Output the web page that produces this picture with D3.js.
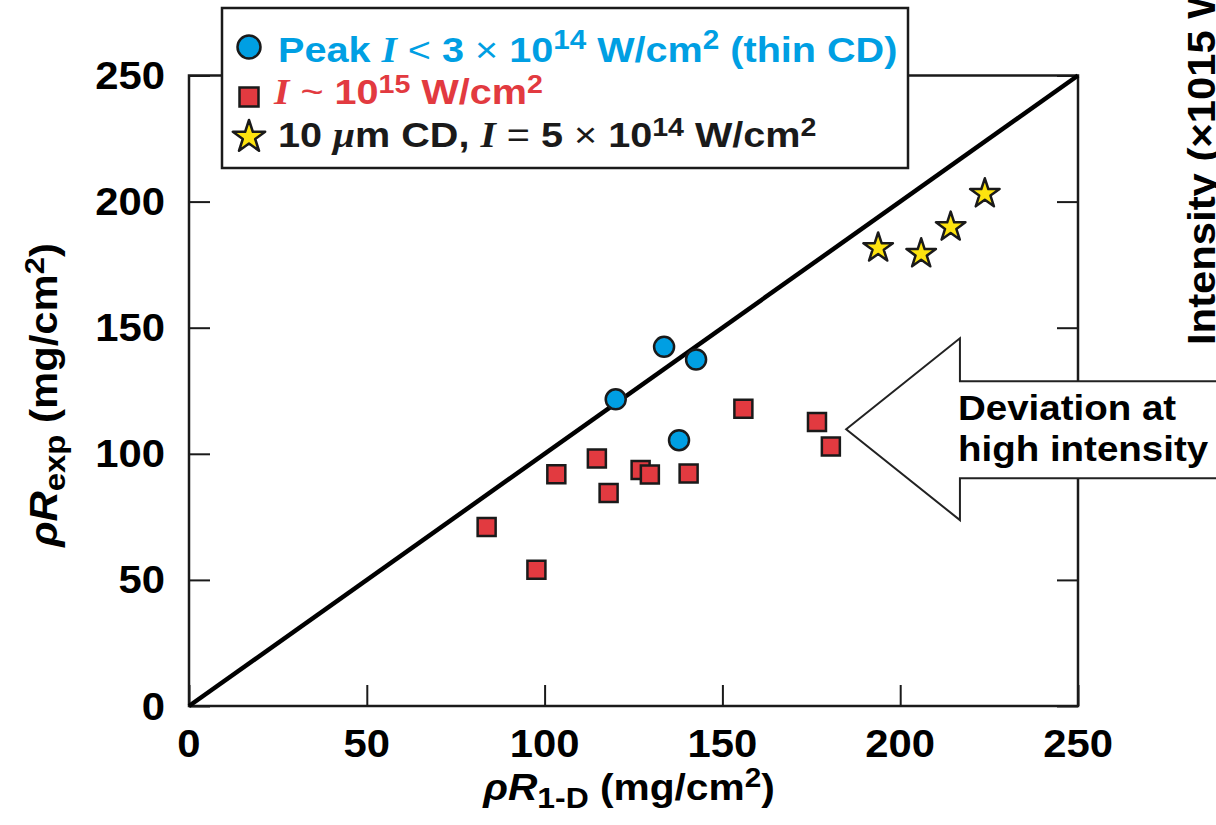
<!DOCTYPE html>
<html>
<head>
<meta charset="utf-8">
<script src="https://cdn.jsdelivr.net/npm/d3@7"></script>
<style>
  html, body { margin: 0; padding: 0; background: #fff; }
  svg { display: block; }
  text { font-family: "Liberation Sans", Arial, Helvetica, sans-serif; font-weight: bold; }
  .serif { font-family: "Liberation Serif", "Times New Roman", serif; font-style: italic; font-weight: bold; }
</style>
</head>
<body>
<svg id="chart" width="1216" height="825"></svg>
<script>
// Areal density: experiment vs 1-D simulation
const xTicks = [0, 50, 100, 150, 200, 250];
const yTicks = [0, 50, 100, 150, 200, 250];

// Peak I < 3e14 W/cm2 (thin CD)
const lowX = [133.6, 142.6, 120.0, 137.8];
const lowY = [142.4, 137.4, 121.6, 105.4];

// I ~ 1e15 W/cm2
const highX = [155.9, 176.6, 180.5, 114.7, 103.3, 127.0, 129.6, 140.5, 118.0, 83.7, 97.7];
const highY = [117.9, 112.6, 102.9, 98.1, 91.9, 93.6, 91.8, 92.2, 84.5, 71.0, 54.0];

// 10 um CD, I = 5e14 W/cm2
const cdX = [223.8, 214.2, 205.9, 193.8];
const cdY = [203.1, 189.9, 179.3, 181.6];

// y = x reference line
const diagonal = [0, 250];

const BLUE = "#009fe3", RED = "#e23a40", YELLOW = "#fde30f", INK = "#1a1a1a";
const SX = 1.1; // horizontal stretch of lettering

const svg = d3.select("#chart");
const x = d3.scaleLinear().domain([0, 250]).range([189, 1078]);
const y = d3.scaleLinear().domain([0, 250]).range([706, 75.5]);

// text helper: places a stretched text element
function label(parent, px, py, anchor, size, rot) {
  return parent.append("text")
    .attr("transform", `translate(${px},${py})` + (rot ? ` rotate(${rot})` : "") + ` scale(${SX},1)`)
    .attr("text-anchor", anchor)
    .attr("font-size", size);
}

// frame
svg.append("rect")
  .attr("x", x(0)).attr("y", y(250))
  .attr("width", x(250) - x(0)).attr("height", y(0) - y(250))
  .attr("fill", "none").attr("stroke", INK).attr("stroke-width", 2.5);

// inward ticks on bottom, left and right
const TL = 21;
svg.append("g").attr("transform", `translate(0,${y(0)})`)
  .call(d3.axisBottom(x).tickValues(xTicks).tickSizeInner(-TL).tickSizeOuter(0).tickFormat(""))
  .call(g => g.select(".domain").remove())
  .call(g => g.selectAll("line").attr("stroke", INK).attr("stroke-width", 2));
svg.append("g").attr("transform", `translate(${x(0)},0)`)
  .call(d3.axisLeft(y).tickValues(yTicks).tickSizeInner(-TL).tickSizeOuter(0).tickFormat(""))
  .call(g => g.select(".domain").remove())
  .call(g => g.selectAll("line").attr("stroke", INK).attr("stroke-width", 2));
svg.append("g").attr("transform", `translate(${x(250)},0)`)
  .call(d3.axisRight(y).tickValues(yTicks).tickSizeInner(-TL).tickSizeOuter(0).tickFormat(""))
  .call(g => g.select(".domain").remove())
  .call(g => g.selectAll("line").attr("stroke", INK).attr("stroke-width", 2));

// tick labels
xTicks.forEach(v => label(svg, x(v), 757, "middle", 38).text(v));
yTicks.forEach(v => label(svg, 165, y(v) + 13.5, "end", 38).text(v));

// axis titles
const xt = label(svg, 629, 800, "middle", 37);
xt.append("tspan").attr("font-style", "italic").text("\u03C1R");
xt.append("tspan").attr("font-size", 29).attr("dy", 8).text("1-D");
xt.append("tspan").attr("dy", -8).text(" (mg/cm");
xt.append("tspan").attr("font-size", 27).attr("dy", -13).text("2");
xt.append("tspan").attr("dy", 13).text(")");

const yt = label(svg, 57, 395, "middle", 38, -90);
yt.append("tspan").attr("font-style", "italic").text("\u03C1R");
yt.append("tspan").attr("font-size", 30).attr("dy", 8).text("exp");
yt.append("tspan").attr("dy", -8).text(" (mg/cm");
yt.append("tspan").attr("font-size", 28).attr("dy", -13).text("2");
yt.append("tspan").attr("dy", 13).text(")");

// y = x line
svg.append("line")
  .attr("x1", x(diagonal[0])).attr("y1", y(diagonal[0]))
  .attr("x2", x(diagonal[1])).attr("y2", y(diagonal[1]))
  .attr("stroke", "#000").attr("stroke-width", 4.5);

// markers
const circleSym = d3.symbol().type(d3.symbolCircle).size(Math.PI * 10 * 10);
const squareSym = d3.symbol().type(d3.symbolSquare).size(18 * 18);
const starSym = d3.symbol().type(d3.symbolStar).size(15.5 * 15.5 / 0.8908);

svg.append("g").selectAll("path").data(highX.map((v, i) => [v, highY[i]])).join("path")
  .attr("d", squareSym).attr("transform", d => `translate(${x(d[0])},${y(d[1])})`)
  .attr("fill", RED).attr("stroke", INK).attr("stroke-width", 2.5);
svg.append("g").selectAll("path").data(lowX.map((v, i) => [v, lowY[i]])).join("path")
  .attr("d", circleSym).attr("transform", d => `translate(${x(d[0])},${y(d[1])})`)
  .attr("fill", BLUE).attr("stroke", INK).attr("stroke-width", 2.5);
svg.append("g").selectAll("path").data(cdX.map((v, i) => [v, cdY[i]])).join("path")
  .attr("d", starSym).attr("transform", d => `translate(${x(d[0])},${y(d[1])})`)
  .attr("fill", YELLOW).attr("stroke", INK).attr("stroke-width", 2.5).attr("stroke-linejoin", "round");

// annotation arrow pointing at the high-intensity points
const arrow = [
  [184.8, 109.7], [216.8, 145.8], [216.8, 128.8], [300, 128.8],
  [300, 90.3], [216.8, 90.3], [216.8, 73.7]
];
svg.append("path")
  .attr("d", d3.line().x(d => x(d[0])).y(d => y(d[1]))(arrow) + "Z")
  .attr("fill", "#fff").attr("stroke", "#222").attr("stroke-width", 2);
label(svg, 958, 420, "start", 35).text("Deviation at");
label(svg, 958, 461, "start", 35).text("high intensity");

// neighbouring panel's axis title, cut by the page edge
label(svg, 1215, 345, "start", 38, -90).text("Intensity (\u00D71015 W");

// legend
svg.append("rect").attr("x", 222).attr("y", 8).attr("width", 686).attr("height", 160)
  .attr("fill", "#fff").attr("stroke", INK).attr("stroke-width", 2.5);

svg.append("path").attr("d", d3.symbol().type(d3.symbolCircle).size(Math.PI * 11.5 * 11.5))
  .attr("transform", "translate(249,47)").attr("fill", BLUE).attr("stroke", INK).attr("stroke-width", 2.5);
svg.append("path").attr("d", d3.symbol().type(d3.symbolSquare).size(19 * 19))
  .attr("transform", "translate(249,97)").attr("fill", RED).attr("stroke", INK).attr("stroke-width", 2.5);
svg.append("path").attr("d", d3.symbol().type(d3.symbolStar).size(17 * 17 / 0.8908))
  .attr("transform", "translate(249,137)").attr("fill", YELLOW).attr("stroke", INK).attr("stroke-width", 2.5).attr("stroke-linejoin", "round");

const l1 = label(svg, 278, 62, "start", 36).attr("fill", BLUE);
l1.append("tspan").text("Peak ");
l1.append("tspan").attr("class", "serif").text("I");
l1.append("tspan").attr("font-weight", "normal").text(" < ");
l1.append("tspan").text("3 ");
l1.append("tspan").attr("font-weight", "normal").text("\u00D7");
l1.append("tspan").text(" 10");
l1.append("tspan").attr("font-size", 27).attr("dy", -13).text("14");
l1.append("tspan").attr("dy", 13).text(" W/cm");
l1.append("tspan").attr("font-size", 27).attr("dy", -13).text("2");
l1.append("tspan").attr("dy", 13).text(" (thin CD)");

const l2 = label(svg, 274, 104, "start", 36).attr("fill", RED);
l2.append("tspan").attr("class", "serif").text("I");
l2.append("tspan").attr("font-weight", "normal").text(" ~ ");
l2.append("tspan").text("10");
l2.append("tspan").attr("font-size", 26).attr("dy", -11).text("15");
l2.append("tspan").attr("dy", 11).text(" W/cm");
l2.append("tspan").attr("font-size", 26).attr("dy", -11).text("2");

const l3 = label(svg, 278, 147, "start", 36).attr("fill", INK);
l3.append("tspan").text("10 ");
l3.append("tspan").attr("class", "serif").text("\u03BC");
l3.append("tspan").text("m CD, ");
l3.append("tspan").attr("class", "serif").text("I");
l3.append("tspan").attr("font-weight", "normal").text(" = ");
l3.append("tspan").text("5 ");
l3.append("tspan").attr("font-weight", "normal").text("\u00D7");
l3.append("tspan").text(" 10");
l3.append("tspan").attr("font-size", 26).attr("dy", -11).text("14");
l3.append("tspan").attr("dy", 11).text(" W/cm");
l3.append("tspan").attr("font-size", 26).attr("dy", -11).text("2");
</script>
</body>
</html>
